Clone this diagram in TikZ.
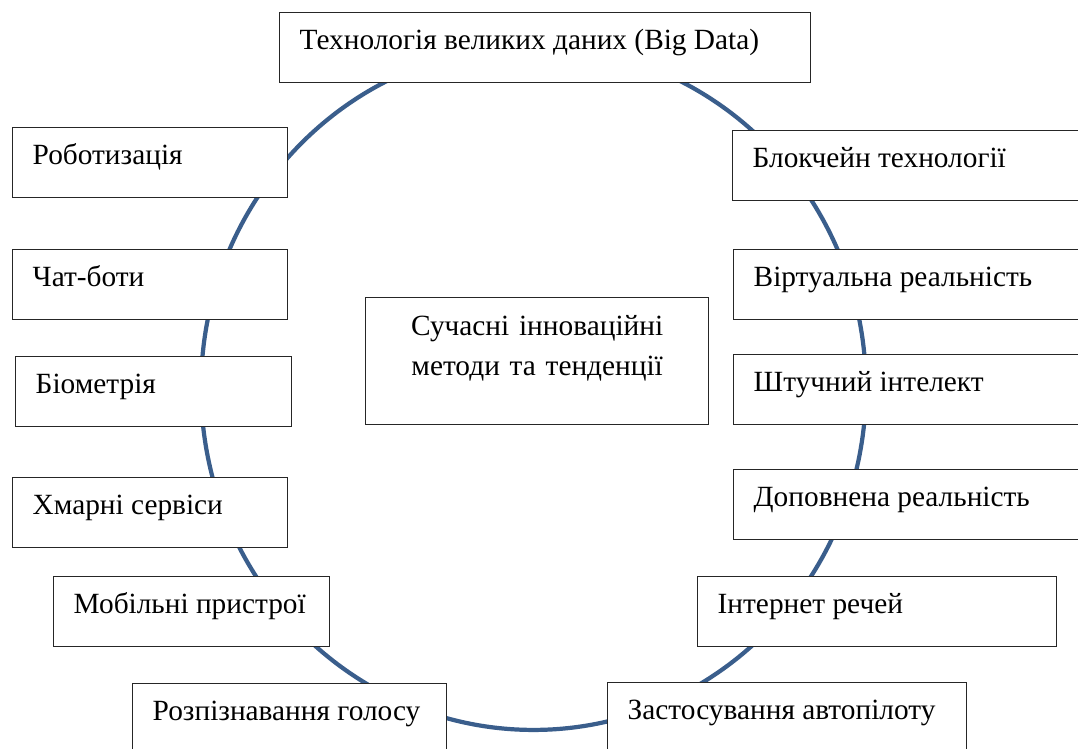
\documentclass[tikz,border=0pt]{standalone}
\usepackage{fontspec}
\setmainfont{Liberation Serif}
\usepackage{xcolor}
\usepackage{tikz}
\usetikzlibrary{positioning}

\definecolor{ringblue}{RGB}{58,94,140}

\tikzset{
  itembox/.style={draw=black!85, line width=0.8pt, fill=white, anchor=north west,
    inner xsep=0.4cm, inner ysep=0pt, text height=0.74cm, text depth=0.66cm,
    font=\fontsize{16.7pt}{22.8pt}\selectfont,
    execute at begin node={\hbox to #1\bgroup}, execute at end node={\hfil\egroup}},
  corebox/.style={draw=black!85, line width=0.8pt, fill=white, anchor=north west,
    inner xsep=0.4cm, inner ysep=0pt, text height=0.76cm, text depth=1.78cm,
    align=center, text width=#1, font=\fontsize{16.7pt}{22.8pt}\selectfont}
}

\begin{document}
\begin{tikzpicture}[x=0.02cm,y=-0.02cm]
\useasboundingbox (0,0) rectangle (1078,749);
% ring behind the boxes
\draw[ringblue,line width=2.4pt] (533.5,388) ellipse [x radius=6.65cm, y radius=6.84cm];
% top
\node[itembox=9.82cm] (bigdata) at (279,12) {Технологія великих даних (Big Data)};
% left column
\node[itembox=4.70cm] (robot) at (12,127) {Роботизація};
\node[itembox=4.70cm] (chatbot) at (12,249) {Чат-боти};
\node[itembox=4.72cm] (biometric) at (15,356) {Біометрія};
\node[itembox=4.70cm] (cloud) at (12,477) {Хмарні сервіси};
\node[itembox=4.72cm] (mobile) at (53,576) {Мобільні пристрої};
\node[itembox=5.48cm] (voice) at (132,683) {Розпізнавання голосу};
% right column
\node[itembox=6.36cm] (blockchain) at (732,130) {Блокчейн технології};
\node[itembox=6.36cm] (vr) at (733,249) {Віртуальна реальність};
\node[itembox=6.36cm] (ai) at (733,354) {Штучний інтелект};
\node[itembox=6.36cm] (ar) at (733,469) {Доповнена реальність};
\node[itembox=6.38cm] (iot) at (697,576) {Інтернет речей};
\node[itembox=6.38cm] (autopilot) at (607,682) {Застосування автопілоту};
% centre
\node[corebox=6.06cm] (core) at (365,297) {Сучасні інноваційні\\методи та тенденції};
\end{tikzpicture}
\end{document}
